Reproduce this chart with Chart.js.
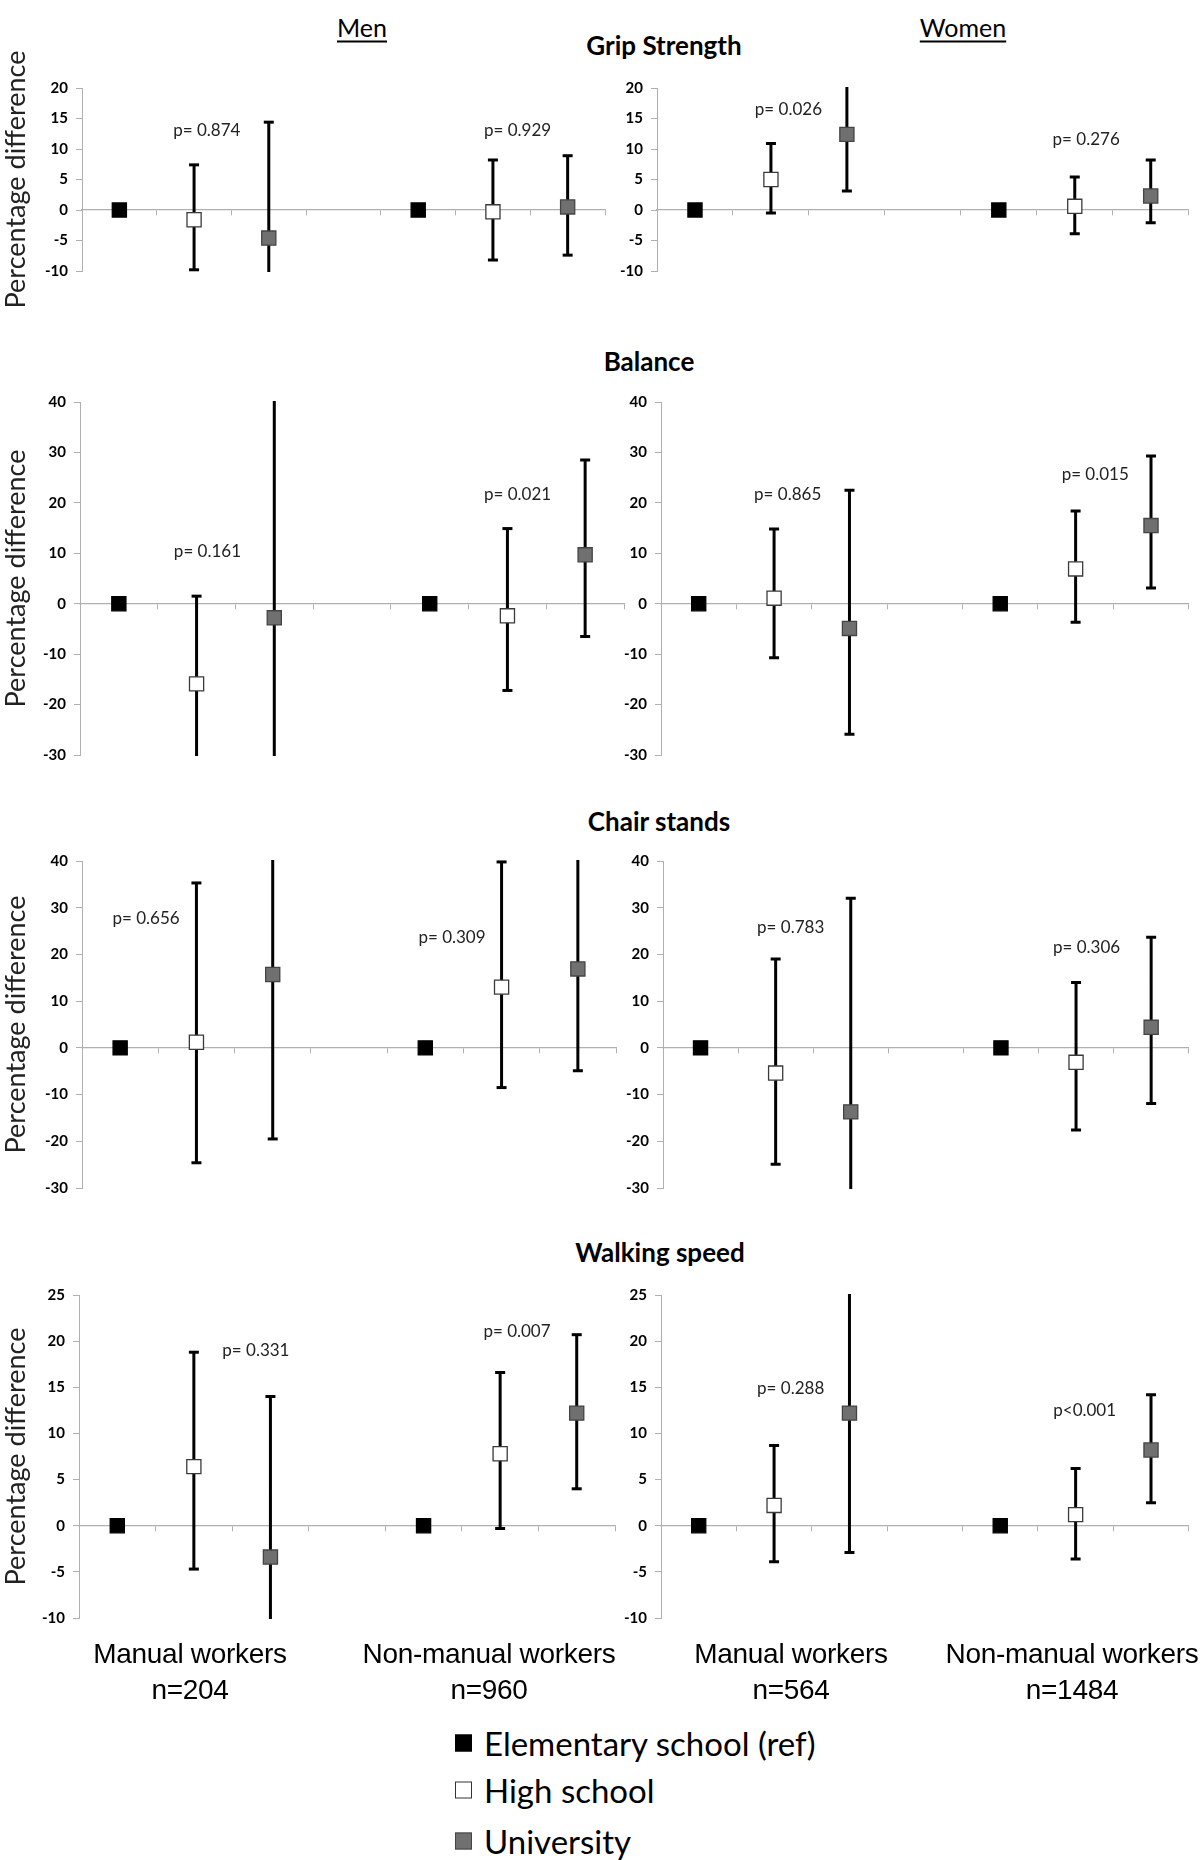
<!DOCTYPE html>
<html>
<head>
<meta charset="utf-8">
<title>Percentage difference by education level</title>
<script src="https://cdn.jsdelivr.net/npm/chart.js@4.4.1/dist/chart.umd.min.js"></script>
<style>
  html, body { margin: 0; padding: 0; background: #fff; }
  #page { position: relative; width: 1200px; height: 1860px; overflow: hidden;
          font-family: Lato, "Open Sans", sans-serif; color: #000; }
  #page canvas { position: absolute; }
  .lbl { position: absolute; transform: translate(-50%, -50%); white-space: nowrap; line-height: 1; }
  .sex { font-size: 25px; text-decoration: underline; text-underline-offset: 4px;
         text-decoration-thickness: 1.5px; }
  .outcome { font-size: 26px; font-weight: bold; }
  .group { font-family: "Liberation Sans", Arial, sans-serif; font-size: 28px; letter-spacing: -0.3px; }
  .legend-row { position: absolute; display: flex; align-items: center; font-size: 33px;
                line-height: 1; transform: translateY(-50%); white-space: nowrap; }
  .legend-row .box { width: 17px; height: 17px; box-sizing: border-box; margin-right: 12px; }
</style>
</head>
<body>
<div id="page"></div>
<script>
/* ===========================================================================
   Percentage difference in physical performance by education level,
   men vs women, manual vs non-manual workers. Four outcomes x two sexes.
   Error bars are plain line datasets (two points + a gap), so everything
   goes through Chart.js scales.
   =========================================================================== */

// ---------------------------------------------------------------------------
// DATA
// ---------------------------------------------------------------------------
const sexes = ["Men", "Women"];
const outcomes = ["Grip Strength", "Balance", "Chair stands", "Walking speed"];
const groups = ["Manual workers", "Non-manual workers"];
const levels = ["Elementary school (ref)", "High school", "University"];
const groupSizes = [["n=204", "n=960"], ["n=564", "n=1484"]];

// y axis range per outcome
const yMins = [-10, -30, -30, -10];
const yMaxs = [20, 40, 40, 25];
const ySteps = [5, 10, 10, 5];

// Every estimate / CI array is ordered:
// [manual high school, manual university, non-manual high school, non-manual university]
// Elementary school is the reference (0) in both groups.
// CI limits that run off the axis are not visible in the figure: rough guesses.
const gripMenEst = [-1.6, -4.6, -0.3, 0.5];
const gripMenLow = [-9.8, -23.6, -8.2, -7.4];
const gripMenHigh = [7.4, 14.4, 8.2, 8.9];
const gripWomenEst = [5.0, 12.4, 0.6, 2.3];
const gripWomenLow = [-0.5, 3.1, -3.9, -2.1];
const gripWomenHigh = [10.9, 21.7, 5.4, 8.2];

const balanceMenEst = [-15.9, -2.8, -2.4, 9.7];
const balanceMenLow = [-33.3, -46, -17.2, -6.5];
const balanceMenHigh = [1.5, 42, 14.9, 28.5];
const balanceWomenEst = [1.1, -4.9, 6.9, 15.5];
const balanceWomenLow = [-10.7, -25.9, -3.7, 3.1];
const balanceWomenHigh = [14.8, 22.5, 18.4, 29.3];

const chairMenEst = [1.2, 15.7, 13.0, 16.9];
const chairMenLow = [-24.6, -19.5, -8.5, -4.9];
const chairMenHigh = [35.3, 51, 39.8, 41.5];
const chairWomenEst = [-5.4, -13.7, -3.1, 4.4];
const chairWomenLow = [-24.9, -59, -17.6, -11.9];
const chairWomenHigh = [19.0, 32.0, 14.0, 23.7];

const walkMenEst = [6.4, -3.4, 7.8, 12.2];
const walkMenLow = [-4.7, -20.8, -0.3, 4.0];
const walkMenHigh = [18.8, 14.0, 16.6, 20.7];
const walkWomenEst = [2.2, 12.2, 1.2, 8.2];
const walkWomenLow = [-3.9, -2.9, -3.6, 2.5];
const walkWomenHigh = [8.7, 27.3, 6.2, 14.2];

// p for trend, ordered [men manual, men non-manual, women manual, women non-manual]
const gripP = ["p= 0.874", "p= 0.929", "p= 0.026", "p= 0.276"];
const balanceP = ["p= 0.161", "p= 0.021", "p= 0.865", "p= 0.015"];
const chairP = ["p= 0.656", "p= 0.309", "p= 0.783", "p= 0.306"];
const walkP = ["p= 0.331", "p= 0.007", "p= 0.288", "p<0.001"];

// x slots: 7 per panel, slot 3 left empty between the two worker groups
const slotCount = 7;
const refSlots = [0, 4];
const levelSlots = [1, 2, 5, 6];

// ---------------------------------------------------------------------------
// LAYOUT (page pixels) - kept apart from the data
// ---------------------------------------------------------------------------
// plot area of each panel: [left, top, right, bottom]
const plotBoxes = [
  [[82, 88, 605, 271], [657, 88, 1192, 271]],
  [[80, 402, 624, 755], [661, 402, 1191, 755]],
  [[82, 861, 616, 1188], [663, 861, 1191, 1188]],
  [[79, 1295, 615, 1618], [661, 1295, 1191, 1618]],
];
// where each p label sits, in axis units [slot, value]
const pLabelAt = [
  [[[1.17, 13.1], [5.33, 13.1]], [[1.23, 16.5], [5.15, 11.5]]],
  [[[1.14, 10.3], [5.13, 21.7]], [[1.18, 21.7], [5.26, 25.7]]],
  [[[0.34, 27.7], [4.35, 23.6]], [[1.2, 25.7], [5.14, 21.5]]],
  [[[1.81, 19.0], [5.22, 21.0]], [[1.22, 14.9], [5.12, 12.5]]],
];
const sexHeaderX = [362, 963];
const outcomeTitlePos = [[664, 45], [649, 361], [659, 821], [660, 1252]];
const groupLabelX = [[190, 489], [791, 1072]];
const groupLabelY = [1654, 1690];
const legendX = 455;
const legendRowY = [1743, 1790, 1841];

const markerFill = ["#000000", "#ffffff", "#707070"];
const markerBorder = ["#000000", "#3a3a3a", "#444444"];
const axisGray = "#b0b0b0";

Chart.defaults.font.family = "Lato";
const page = document.getElementById("page");

// ---------------------------------------------------------------------------
// SMALL HELPERS
// ---------------------------------------------------------------------------
function addLabel(text, cls, x, y) {
  const el = document.createElement("div");
  el.className = "lbl " + cls;
  el.textContent = text;
  el.style.left = x + "px";
  el.style.top = y + "px";
  page.appendChild(el);
  return el;
}

// draws the p-values at axis coordinates
function pLabelPlugin(items) {
  return {
    id: "pLabels",
    afterDatasetsDraw(chart) {
      const { ctx, scales } = chart;
      ctx.save();
      ctx.font = "17px Lato";
      ctx.fillStyle = "#222";
      ctx.textAlign = "center";
      ctx.textBaseline = "middle";
      items.forEach((it) => {
        ctx.fillText(it.text, scales.x.getPixelForValue(it.at[0]), scales.y.getPixelForValue(it.at[1]));
      });
      ctx.restore();
    },
  };
}

// ---------------------------------------------------------------------------
// ONE PANEL
// ---------------------------------------------------------------------------
function drawPanel(row, sex, est, low, high, pTexts) {
  const box = plotBoxes[row][sex];
  const canvasLeft = sex === 0 ? 0 : 600;
  const canvasW = sex === 0 ? 640 : 600;
  const pad = 60;
  const canvasTop = box[1] - pad;
  const canvasH = box[3] - box[1] + 2 * pad;

  const canvas = document.createElement("canvas");
  canvas.width = canvasW;
  canvas.height = canvasH;
  canvas.style.left = canvasLeft + "px";
  canvas.style.top = canvasTop + "px";
  canvas.style.width = canvasW + "px";
  canvas.style.height = canvasH + "px";
  page.appendChild(canvas);

  // error bars: low point, high point, then a gap
  const bars = [];
  levelSlots.forEach((slot, i) => {
    bars.push({ x: slot, y: low[i] }, { x: slot, y: high[i] }, { x: slot, y: null });
  });

  const refPts = refSlots.map((slot) => ({ x: slot, y: 0 }));
  const highPts = [0, 2].map((i) => ({ x: levelSlots[i], y: est[i] }));
  const uniPts = [1, 3].map((i) => ({ x: levelSlots[i], y: est[i] }));

  const markerSet = (label, data, k) => ({
    label: label,
    data: data,
    order: 0,
    showLine: false,
    pointStyle: "rect",
    pointRadius: 10,
    pointBorderWidth: 1.3,
    pointBackgroundColor: markerFill[k],
    pointBorderColor: markerBorder[k],
  });

  const boundaries = [];
  for (let i = 0; i <= slotCount; i++) boundaries.push({ value: i - 0.5 });

  const pItems = [0, 1].map((g) => ({ text: pTexts[sex * 2 + g], at: pLabelAt[row][sex][g] }));

  new Chart(canvas, {
    type: "scatter",
    data: {
      datasets: [
        markerSet(levels[0], refPts, 0),
        markerSet(levels[1], highPts, 1),
        markerSet(levels[2], uniPts, 2),
        {
          label: "95% CI",
          data: bars,
          order: 1,
          showLine: true,
          spanGaps: false,
          clip: 1,
          borderColor: "#000",
          borderWidth: 3,
          pointStyle: "line",
          pointRadius: 5,
          pointBorderWidth: 3,
          pointBorderColor: "#000",
        },
      ],
    },
    options: {
      responsive: false,
      animation: false,
      events: [],
      layout: { padding: { left: 0, top: pad, bottom: pad, right: canvasLeft + canvasW - box[2] } },
      plugins: { legend: { display: false }, tooltip: { enabled: false } },
      scales: {
        x: {
          type: "linear",
          position: { y: 0 },
          min: -0.5,
          max: slotCount - 0.5,
          afterBuildTicks: (s) => { s.ticks = boundaries.slice(); },
          ticks: { display: false },
          grid: { drawOnChartArea: false, drawTicks: true, tickLength: 5, color: axisGray },
          border: { color: axisGray, width: 1.3 },
        },
        y: {
          type: "linear",
          position: "left",
          min: yMins[row],
          max: yMaxs[row],
          ticks: { stepSize: ySteps[row], color: "#000", padding: 8,
                   font: { family: "Lato", size: 15, weight: "bold" } },
          grid: { drawOnChartArea: false, drawTicks: true, tickLength: 6, color: axisGray },
          border: { color: axisGray, width: 1 },
          title: { display: sex === 0, text: "Percentage difference", color: "#222",
                   padding: { top: 0, bottom: 0 }, font: { family: "Lato", size: 27 } },
          afterFit: (s) => { s.width = box[0] - canvasLeft; },
        },
      },
    },
    plugins: [pLabelPlugin(pItems)],
  });
}

// ---------------------------------------------------------------------------
// BUILD THE PAGE
// ---------------------------------------------------------------------------
sexes.forEach((s, i) => addLabel(s, "sex", sexHeaderX[i], 27));
outcomes.forEach((t, r) => addLabel(t, "outcome", outcomeTitlePos[r][0], outcomeTitlePos[r][1]));

drawPanel(0, 0, gripMenEst, gripMenLow, gripMenHigh, gripP);
drawPanel(0, 1, gripWomenEst, gripWomenLow, gripWomenHigh, gripP);
drawPanel(1, 0, balanceMenEst, balanceMenLow, balanceMenHigh, balanceP);
drawPanel(1, 1, balanceWomenEst, balanceWomenLow, balanceWomenHigh, balanceP);
drawPanel(2, 0, chairMenEst, chairMenLow, chairMenHigh, chairP);
drawPanel(2, 1, chairWomenEst, chairWomenLow, chairWomenHigh, chairP);
drawPanel(3, 0, walkMenEst, walkMenLow, walkMenHigh, walkP);
drawPanel(3, 1, walkWomenEst, walkWomenLow, walkWomenHigh, walkP);

// worker group labels under the bottom row
sexes.forEach((s, si) => {
  groups.forEach((g, gi) => {
    addLabel(g, "group", groupLabelX[si][gi], groupLabelY[0]);
    addLabel(groupSizes[si][gi], "group", groupLabelX[si][gi], groupLabelY[1]);
  });
});

// legend
levels.forEach((name, k) => {
  const row = document.createElement("div");
  row.className = "legend-row";
  row.style.left = legendX + "px";
  row.style.top = legendRowY[k] + "px";
  const box = document.createElement("span");
  box.className = "box";
  box.style.background = markerFill[k];
  box.style.border = "1px solid " + (k === 1 ? "#333" : markerBorder[k]);
  const txt = document.createElement("span");
  txt.textContent = name;
  row.appendChild(box);
  row.appendChild(txt);
  page.appendChild(row);
});
</script>
</body>
</html>
